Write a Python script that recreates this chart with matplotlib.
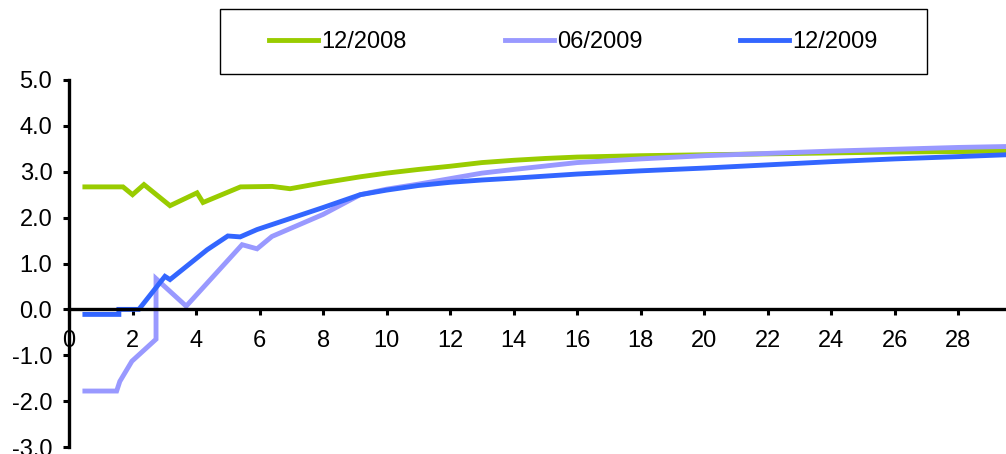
import matplotlib.pyplot as plt
from matplotlib.patches import Rectangle

# yield curves by maturity (years), three dates
x_dec08 = [0.5, 1.7, 2.0, 2.36, 3.18, 4.03, 4.22, 5.4, 6.4, 6.96, 8, 9.17, 10, 11, 12,
           13, 14, 15, 16, 18, 20, 22, 24, 26, 28, 29.5]
y_dec08 = [2.67, 2.67, 2.5, 2.72, 2.26, 2.54, 2.33, 2.67, 2.68, 2.63, 2.76, 2.89, 2.97, 3.05, 3.12,
           3.2, 3.25, 3.29, 3.32, 3.35, 3.37, 3.39, 3.41, 3.43, 3.44, 3.45]

x_jun09 = [0.5, 1.5, 1.6, 1.98, 2.74, 2.74, 3.69, 5.45, 5.92, 6.39, 8, 9.17, 10, 11, 12,
           13, 14, 16, 18, 20, 22, 24, 26, 28, 29.5]
y_jun09 = [-1.78, -1.78, -1.57, -1.13, -0.65, 0.67, 0.07, 1.41, 1.32, 1.59, 2.07, 2.5, 2.62, 2.73, 2.85,
           2.97, 3.05, 3.2, 3.28, 3.35, 3.4, 3.45, 3.49, 3.53, 3.55]

x_dec09 = [0.5, 1.57, 1.57, 2.2, 3.02, 3.18, 4.35, 5.0, 5.39, 5.92, 8, 9.17, 10, 11, 12,
           13, 14, 16, 18, 20, 22, 24, 26, 28, 29.5]
y_dec09 = [-0.11, -0.11, 0.0, 0.0, 0.72, 0.65, 1.3, 1.6, 1.58, 1.74, 2.22, 2.5, 2.6, 2.7, 2.77,
           2.82, 2.86, 2.95, 3.02, 3.08, 3.15, 3.22, 3.28, 3.33, 3.37]

series = [
    ("12/2008", x_dec08, y_dec08, "#99CC00"),
    ("06/2009", x_jun09, y_jun09, "#9999FF"),
    ("12/2009", x_dec09, y_dec09, "#3366FF"),
]

plt.rcParams['font.family'] = ['Liberation Sans', 'DejaVu Sans']
plt.rcParams['font.size'] = 17

W, H = 1006, 454
fig = plt.figure(figsize=(W / 100, H / 100), dpi=100)
ax = fig.add_axes([69 / W, 7 / H, 1 - 69 / W, 367 / H])

for name, xs, ys, col in series:
    ax.plot(xs, ys, color=col, lw=3.5, label=name, solid_joinstyle='miter')

ax.set_xlim(0, 29.5)
ax.set_ylim(-3, 5)
ax.set_xticks(range(0, 29, 2))
ax.set_yticks(range(-3, 6))
ax.set_yticklabels([f"{v:.1f}" for v in range(-3, 6)])

for s in ['top', 'right']:
    ax.spines[s].set_visible(False)
ax.spines['bottom'].set_position(('data', 0))
ax.spines['left'].set_linewidth(2.4)
ax.spines['bottom'].set_linewidth(2.4)
ax.tick_params(axis='y', direction='out', length=4, width=2.2, pad=8)
ax.tick_params(axis='x', direction='out', length=4.5, width=2.2, pad=10)

# legend box drawn as a plain rectangle in figure pixels
fig.patches.append(Rectangle((220 / W, 1 - 74 / H), 707 / W, 65 / H, transform=fig.transFigure,
                             fill=False, edgecolor='black', lw=1.0))
fig.legend(loc='center', bbox_to_anchor=((220 + 927) / 2 / W, 1 - 42 / H), ncol=3, frameon=False,
           handlelength=2.08, handletextpad=0.13, columnspacing=4.15)

fig.savefig('out.png', dpi=100)
